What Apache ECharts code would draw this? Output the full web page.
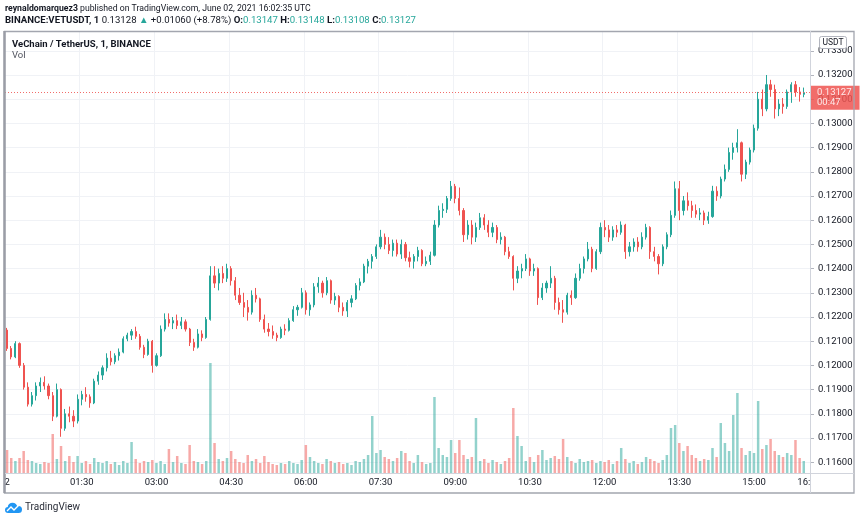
<!DOCTYPE html>
<html><head><meta charset="utf-8">
<script src="https://cdn.jsdelivr.net/npm/echarts/dist/echarts.min.js"></script>
<style>html,body{margin:0;padding:0;background:#fff;}#c{width:860px;height:521px;}</style>
</head><body><div id="c"></div>
<script>
// 5-minute candles VET/USDT, 00:00 - 16:02 (June 2, 2021)
const openP = [
.12146,.12070,.12035,.12090,.12000,.11910,.11840,.11875,.11915,.11930,
.11915,.11875,.11790,.11900,.11740,.11800,.11790,.11770,.11860,.11880,
.11870,.11845,.11935,.11960,.11990,.12030,.12015,.12040,.12055,.12110,
.12125,.12140,.12120,.12075,.12045,.12100,.12000,.12040,.12150,.12190,
.12175,.12185,.12165,.12180,.12150,.12095,.12075,.12130,.12115,.12190,
.12370,.12340,.12380,.12360,.12400,.12350,.12290,.12260,.12240,.12220,
.12290,.12275,.12190,.12150,.12140,.12125,.12115,.12150,.12145,.12185,
.12230,.12240,.12300,.12230,.12250,.12325,.12340,.12300,.12350,.12270,
.12285,.12240,.12225,.12260,.12275,.12330,.12345,.12410,.12430,.12450,
.12490,.12530,.12500,.12475,.12505,.12460,.12500,.12445,.12430,.12450,
.12475,.12420,.12430,.12455,.12580,.12640,.12645,.12690,.12740,.12690,
.12640,.12540,.12580,.12530,.12570,.12610,.12580,.12550,.12570,.12520,
.12530,.12470,.12450,.12360,.12390,.12400,.12440,.12390,.12400,.12280,
.12320,.12340,.12360,.12260,.12230,.12220,.12290,.12280,.12360,.12400,
.12440,.12480,.12400,.12470,.12570,.12560,.12530,.12560,.12550,.12580,
.12470,.12490,.12510,.12490,.12530,.12570,.12470,.12450,.12420,.12490,
.12540,.12620,.12730,.12640,.12680,.12660,.12640,.12625,.12630,.12600,
.12615,.12720,.12700,.12770,.12810,.12880,.12900,.12920,.12790,.12840,
.12890,.12980,.13100,.13060,.13160,.13140,.13060,.13080,.13070,.13130,
.13160,.13130,.13120];
const highP = [
.12155,.12080,.12100,.12095,.12010,.11930,.11890,.11930,.11950,.11955,
.11925,.11890,.11925,.11905,.11820,.11830,.11815,.11880,.11895,.11910,
.11880,.11945,.11975,.12000,.12050,.12060,.12050,.12070,.12120,.12135,
.12150,.12160,.12130,.12085,.12110,.12105,.12050,.12165,.12215,.12215,
.12200,.12210,.12200,.12190,.12155,.12110,.12150,.12145,.12200,.12410,
.12410,.12400,.12410,.12420,.12410,.12365,.12320,.12300,.12270,.12310,
.12320,.12280,.12210,.12175,.12165,.12135,.12160,.12170,.12195,.12245,
.12250,.12320,.12310,.12260,.12340,.12365,.12350,.12365,.12355,.12300,
.12290,.12260,.12270,.12290,.12340,.12360,.12420,.12440,.12460,.12500,
.12560,.12545,.12530,.12520,.12520,.12520,.12510,.12470,.12460,.12490,
.12480,.12450,.12470,.12600,.12660,.12670,.12700,.12762,.12750,.12735,
.12650,.12600,.12600,.12590,.12630,.12625,.12600,.12590,.12580,.12550,
.12535,.12490,.12455,.12410,.12420,.12460,.12445,.12420,.12405,.12340,
.12350,.12410,.12370,.12280,.12270,.12300,.12310,.12380,.12420,.12450,
.12510,.12490,.12480,.12590,.12600,.12580,.12575,.12580,.12595,.12585,
.12510,.12525,.12530,.12550,.12585,.12575,.12490,.12460,.12500,.12550,
.12640,.12760,.12762,.12700,.12715,.12680,.12665,.12650,.12640,.12635,
.12742,.12740,.12780,.12830,.12900,.12920,.12976,.12925,.12850,.12900,
.12995,.13130,.13140,.13200,.13180,.13160,.13100,.13105,.13140,.13170,
.13175,.13150,.13148];
const lowP = [
.12060,.12025,.12030,.11990,.11900,.11830,.11830,.11855,.11890,.11900,
.11860,.11770,.11785,.11705,.11730,.11765,.11745,.11760,.11835,.11850,
.11825,.11840,.11920,.11940,.11975,.12000,.12005,.12020,.12050,.12100,
.12105,.12110,.12065,.12030,.12040,.11970,.11995,.12035,.12140,.12160,
.12150,.12150,.12150,.12140,.12080,.12060,.12070,.12100,.12110,.12185,
.12320,.12310,.12340,.12345,.12330,.12270,.12250,.12200,.12185,.12210,
.12260,.12180,.12135,.12120,.12110,.12100,.12110,.12125,.12140,.12180,
.12205,.12235,.12210,.12205,.12240,.12300,.12280,.12290,.12255,.12250,
.12220,.12205,.12200,.12240,.12270,.12310,.12340,.12380,.12400,.12440,
.12480,.12480,.12460,.12450,.12450,.12440,.12430,.12405,.12400,.12430,
.12410,.12410,.12415,.12450,.12570,.12610,.12630,.12680,.12670,.12620,
.12510,.12520,.12500,.12510,.12560,.12560,.12530,.12530,.12505,.12500,
.12455,.12440,.12310,.12340,.12360,.12390,.12370,.12370,.12250,.12270,
.12300,.12320,.12230,.12210,.12176,.12210,.12250,.12275,.12350,.12380,
.12430,.12385,.12395,.12460,.12530,.12510,.12515,.12530,.12540,.12440,
.12450,.12470,.12470,.12480,.12520,.12440,.12430,.12376,.12410,.12480,
.12530,.12610,.12600,.12620,.12640,.12610,.12610,.12600,.12580,.12585,
.12610,.12680,.12690,.12760,.12800,.12850,.12880,.12760,.12770,.12830,
.12880,.12970,.13030,.13050,.13110,.13020,.13030,.13040,.13060,.13085,
.13110,.13090,.13108];
const closeP = [
.12070,.12035,.12090,.12000,.11910,.11840,.11875,.11915,.11930,.11915,
.11875,.11790,.11900,.11740,.11800,.11790,.11770,.11860,.11880,.11870,
.11845,.11935,.11960,.11990,.12030,.12015,.12040,.12055,.12110,.12125,
.12140,.12120,.12075,.12045,.12100,.12000,.12040,.12150,.12190,.12175,
.12185,.12165,.12180,.12150,.12095,.12075,.12130,.12115,.12190,.12370,
.12340,.12380,.12360,.12400,.12350,.12290,.12260,.12240,.12220,.12290,
.12275,.12190,.12150,.12140,.12125,.12115,.12150,.12145,.12185,.12230,
.12240,.12300,.12230,.12250,.12325,.12340,.12300,.12350,.12270,.12285,
.12240,.12225,.12260,.12275,.12330,.12345,.12410,.12430,.12450,.12490,
.12530,.12500,.12475,.12505,.12460,.12500,.12445,.12430,.12450,.12475,
.12420,.12430,.12455,.12580,.12640,.12645,.12690,.12740,.12690,.12640,
.12540,.12580,.12530,.12570,.12610,.12580,.12550,.12570,.12520,.12530,
.12470,.12450,.12360,.12390,.12400,.12440,.12390,.12400,.12280,.12320,
.12340,.12360,.12260,.12230,.12220,.12290,.12280,.12360,.12400,.12440,
.12480,.12400,.12470,.12570,.12560,.12530,.12560,.12550,.12580,.12470,
.12490,.12510,.12490,.12530,.12570,.12470,.12450,.12420,.12490,.12540,
.12620,.12730,.12640,.12680,.12660,.12640,.12625,.12630,.12600,.12615,
.12720,.12700,.12770,.12810,.12880,.12900,.12920,.12790,.12840,.12890,
.12980,.13100,.13060,.13160,.13140,.13060,.13080,.13070,.13130,.13160,
.13130,.13120,.13127];
// volume (10k VET)
const volume = [
23,15,12,15,22,13,12,10,9,11,
10,39,14,27,12,17,11,17,10,12,
9,15,11,10,12,9,11,8,12,10,
31,14,10,12,11,13,10,12,9,24,
11,17,10,9,28,12,11,9,12,110,
30,14,12,15,22,14,11,10,18,12,
14,10,17,11,9,8,10,9,12,10,
9,13,28,16,12,10,9,14,12,10,
11,9,10,8,12,11,14,18,57,20,
23,16,14,12,15,22,20,12,10,18,
11,9,10,76,25,18,16,33,20,33,
18,14,16,55,12,14,10,13,11,9,
12,15,65,37,27,12,16,11,18,23,
13,15,17,14,34,16,12,10,14,11,
12,13,10,12,11,13,9,12,25,14,
10,12,9,11,16,14,12,10,13,18,
45,48,30,22,27,18,15,12,14,13,
25,16,50,30,22,58,80,25,18,22,
20,72,24,28,34,22,18,16,20,18,
33,15,12];
const timeTickLabels = ['01:30','03:00','04:30','06:00','07:30','09:00','10:30','12:00','13:30','15:00'];
const slotCount = 194; // 5-minute slots from 00:00 to 16:05
const lastPrice = 0.13127;
const countdown = '00:47';

const categories = [];
for (let i = 0; i < slotCount; i++) {
  const m = i * 5;
  categories.push(String(Math.floor(m / 60)).padStart(2, '0') + ':' + String(m % 60).padStart(2, '0'));
}
const UP = '#26a69a', DOWN = '#ef5350';
const candleData = openP.map((o, i) => [o, closeP[i], lowP[i], highP[i]]);
const volData = volume.map((v, i) => ({
  value: v,
  itemStyle: { color: closeP[i] >= openP[i] ? 'rgba(38,166,154,0.5)' : 'rgba(239,83,80,0.5)' }
}));

const FONT = 'Roboto, "Liberation Sans", Arial, sans-serif';
const chart = echarts.init(document.getElementById('c'), null, { renderer: 'canvas' });
chart.setOption({
  animation: false,
  backgroundColor: '#ffffff',
  textStyle: { fontFamily: FONT },
  title: [
    { left: 5, top: 4, padding: 0, text: '{b|reynaldomarquez3} published on TradingView.com, June 02, 2021 16:02:35 UTC',
      textStyle: { fontSize: 8.7, fontWeight: 'normal', color: '#131722', fontFamily: FONT,
        rich: { b: { fontWeight: 'bold', fontSize: 8.7, color: '#131722', fontFamily: FONT } } } },
    { left: 5, top: 16, padding: 0, text: '{b|BINANCE:VETUSDT, 1} 0.13128 {g|▲} +0.01060 (+8.78%) {b|O:}{g|0.13147} {b|H:}{g|0.13148} {b|L:}{g|0.13108} {b|C:}{g|0.13127}',
      textStyle: { fontSize: 9.6, fontWeight: 'normal', color: '#131722', fontFamily: FONT,
        rich: { b: { fontWeight: 'bold', fontSize: 9.6, color: '#131722', fontFamily: FONT },
                g: { fontSize: 9.6, color: '#26a69a', fontFamily: FONT } } } },
    { left: 12, top: 40, padding: 0, text: 'VeChain / TetherUS, 1, BINANCE',
      textStyle: { fontSize: 9.5, fontWeight: 'bold', color: '#131722', fontFamily: FONT } },
    { left: 12, top: 51, padding: 0, text: 'Vol',
      textStyle: { fontSize: 9.5, fontWeight: 'normal', color: '#50535e', fontFamily: FONT } }
  ],
  grid: [
    { left: 5, right: 50, top: 31, bottom: 48 },
    { left: 5, right: 50, top: 363, bottom: 48 }
  ],
  xAxis: [
    { type: 'category', gridIndex: 0, data: categories, boundaryGap: true,
      axisLine: { show: false }, axisTick: { show: false },
      axisLabel: { color: '#131722', fontSize: 9.5, margin: 5, fontFamily: FONT,
        interval: (idx, val) => val === '00:00' || val === '16:00' || timeTickLabels.includes(val),
        formatter: (val) => val === '00:00' ? '2' : (val === '16:00' ? '16:' : val) },
      splitLine: { show: true, lineStyle: { color: '#f0f2f6', width: 1 },
        interval: (idx, val) => timeTickLabels.includes(val) } },
    { type: 'category', gridIndex: 1, data: categories, boundaryGap: true, show: false }
  ],
  yAxis: [
    { type: 'value', gridIndex: 0, position: 'right', scale: true,
      min: 0.115554, max: 0.133818, splitNumber: 18,
      axisLine: { show: false },
      axisTick: { show: true, length: 4, lineStyle: { color: '#b2b5be' } },
      axisLabel: { color: '#131722', fontSize: 9.5, margin: 8, fontFamily: FONT,
        showMinLabel: false, showMaxLabel: false, formatter: (v) => v.toFixed(5) },
      splitLine: { show: true, lineStyle: { color: '#f0f2f6', width: 1 } } },
    { type: 'value', gridIndex: 1, min: 0, max: 110, show: false, splitLine: { show: false } }
  ],
  series: [
    { type: 'bar', name: 'Vol', xAxisIndex: 1, yAxisIndex: 1, data: volData,
      barWidth: '60%', z: 1, silent: true },
    { type: 'candlestick', name: 'VETUSDT', xAxisIndex: 0, yAxisIndex: 0, data: candleData,
      barWidth: '40%', z: 3,
      itemStyle: { color: UP, color0: DOWN, borderColor: UP, borderColor0: DOWN, borderWidth: 1 },
      markLine: {
        symbol: 'none', silent: true, animation: false, precision: 5,
        data: [{ yAxis: lastPrice }],
        lineStyle: { color: DOWN, type: [1, 2], width: 1, opacity: 0.85 },
        label: { show: true, position: 'end', distance: 0, offset: [0, 5],
          formatter: lastPrice.toFixed(5) + '\n' + countdown,
          color: '#ffffff', backgroundColor: DOWN, fontSize: 9.5, lineHeight: 10.5,
          padding: [2, 8, 1, 7], fontFamily: FONT, borderRadius: 0 }
      } }
  ],
  graphic: [
    { type: 'rect', z: 100, silent: true, shape: { x: 4.5, y: 31.5, width: 849.5, height: 461.5 },
      style: { fill: 'none', stroke: '#a3a6af', lineWidth: 1.3 } },
    { type: 'line', z: 100, silent: true, shape: { x1: 4.5, y1: 31, x2: 4.5, y2: 493 },
      style: { stroke: '#9a9da6', lineWidth: 2.5 } },
    { type: 'line', z: 100, silent: true, shape: { x1: 810.5, y1: 31, x2: 810.5, y2: 493 },
      style: { stroke: '#d1d4dc', lineWidth: 1 } },
    { type: 'line', z: 100, silent: true, shape: { x1: 5, y1: 473.5, x2: 854, y2: 473.5 },
      style: { stroke: '#d1d4dc', lineWidth: 1 } },
    { type: 'rect', z: 101, silent: true, shape: { x: 819.5, y: 36.5, width: 27, height: 12, r: 2 },
      style: { fill: '#ffffff', stroke: '#b2b5be', lineWidth: 1 } },
    { type: 'text', z: 102, silent: true, x: 833, y: 42.5,
      style: { text: 'USDT', fill: '#131722', fontSize: 8.5, fontFamily: FONT, align: 'center', verticalAlign: 'middle' } },
    { type: 'circle', z: 100, silent: true, shape: { cx: 12.5, cy: 507.5, r: 4.8 }, style: { fill: '#2196f3' } },
    { type: 'circle', z: 100, silent: true, shape: { cx: 8, cy: 510, r: 3 }, style: { fill: '#2196f3' } },
    { type: 'circle', z: 100, silent: true, shape: { cx: 18.5, cy: 509.5, r: 3.5 }, style: { fill: '#2196f3' } },
    { type: 'rect', z: 100, silent: true, shape: { x: 8, y: 509, width: 11, height: 4 }, style: { fill: '#2196f3' } },
    { type: 'polyline', z: 101, silent: true,
      shape: { points: [[7, 511], [11, 507], [14, 510], [19.5, 504.5]] },
      style: { stroke: '#ffffff', lineWidth: 1.4, fill: 'none' } },
    { type: 'text', z: 100, silent: true, x: 25, y: 507.5,
      style: { text: 'TradingView', fill: '#2a2e39', fontSize: 10, fontFamily: FONT, verticalAlign: 'middle' } }
  ]
});
</script>
</body></html>
